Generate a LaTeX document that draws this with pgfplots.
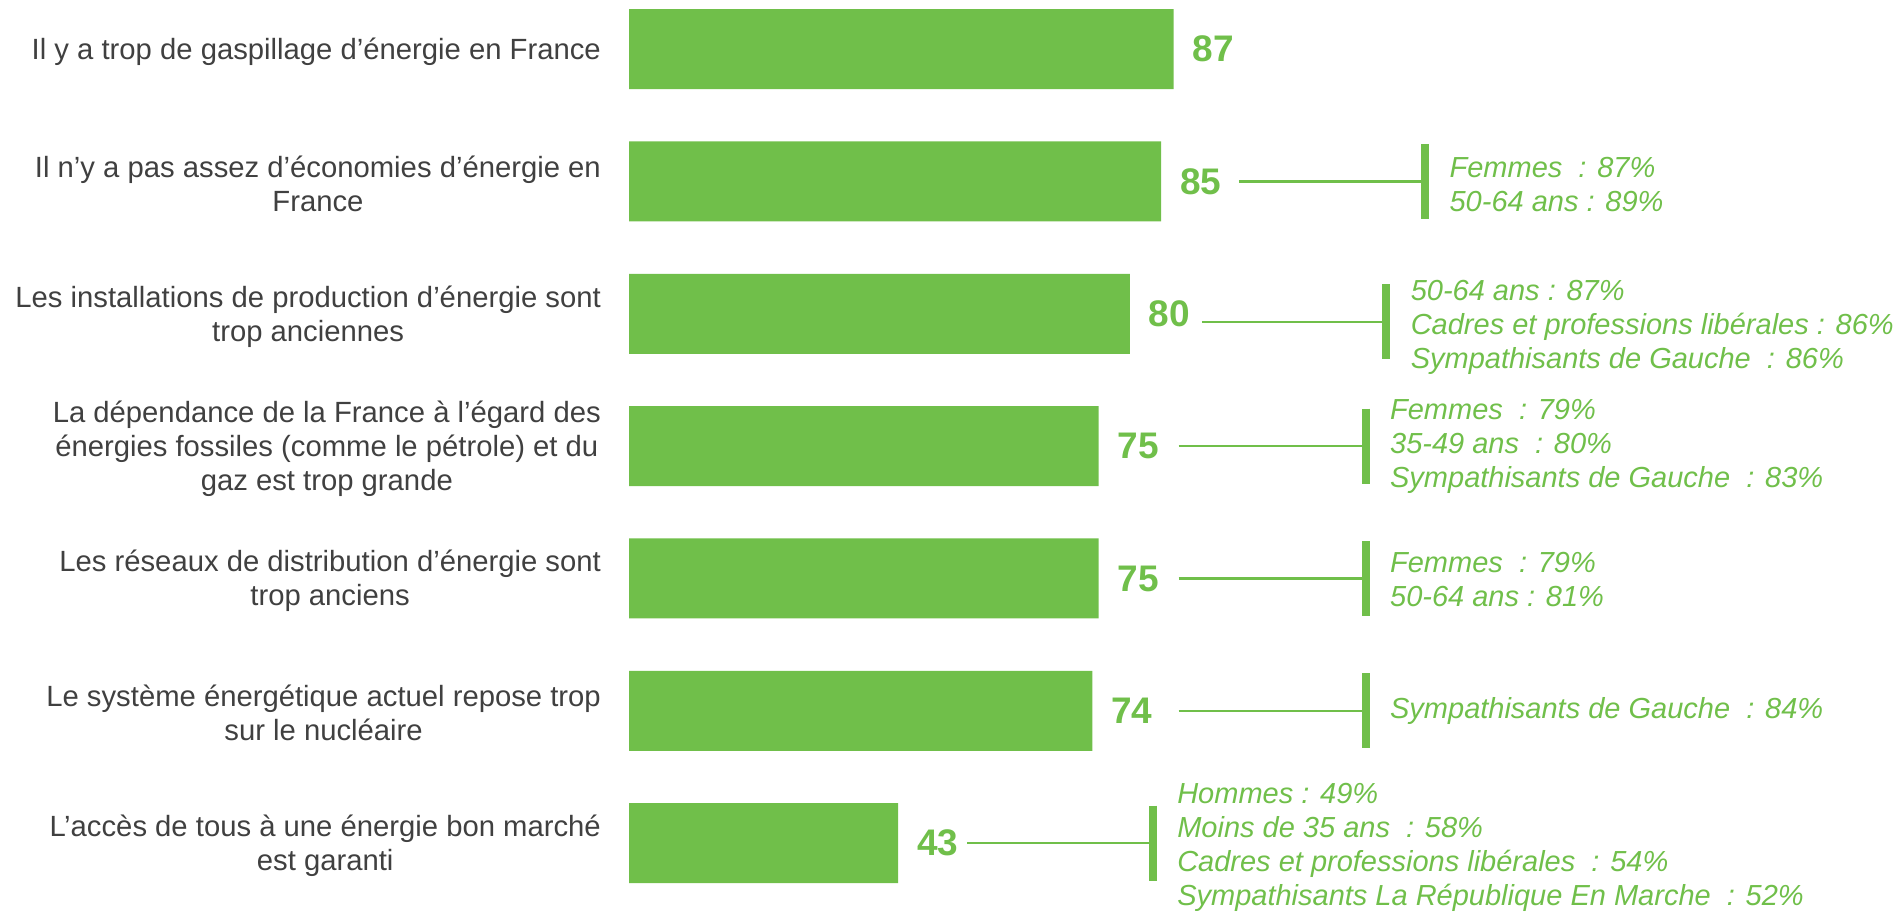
\documentclass[border=0pt]{standalone}
\usepackage{pgfplots}
\pgfplotsset{compat=1.18}
\usepackage{fontspec}
\setmainfont{Liberation Sans}
\definecolor{barg}{RGB}{112,191,74}
\definecolor{labg}{RGB}{64,64,64}
\begin{document}
\begin{tikzpicture}
\begin{axis}[
  name=ax,
  scale only axis,
  width=760.4pt, height=364.8pt,
  xmin=-100.48, xmax=203.19,
  ymin=-0.371, ymax=6.520,
  y dir=reverse,
  xbar, bar width=32pt, bar shift=0pt,
  axis line style={draw=none},
  tick style={draw=none},
  xtick=\empty,
  ytick={0,1,2,3,4,5,6},
  yticklabels={
    {Il y a trop de gaspillage d’énergie en France},
    {Il n’y a pas assez d’économies d’énergie en\\France},
    {Les installations de production d’énergie sont\\trop anciennes},
    {La dépendance de la France à l’égard des\\énergies fossiles (comme le pétrole) et du\\gaz est trop grande},
    {Les réseaux de distribution d’énergie sont\\trop anciens},
    {Le système énergétique actuel repose trop\\sur le nucléaire},
    {L’accès de tous à une énergie bon marché\\est garanti}},
  yticklabel style={anchor=east, inner sep=0pt, xshift=244.8pt, yshift=-1pt, align=center,
    font=\fontsize{11.7pt}{13.6pt}\selectfont, text=labg},
  clip=false,
  point meta=x,
  /pgf/number format/assume math mode=true,
  nodes near coords,
  nodes near coords style={anchor=west, inner sep=0pt, xshift=7.4pt,
    font=\bfseries\fontsize{14.8pt}{17pt}\selectfont, text=barg},
]
\addplot[fill=barg, draw=none] coordinates {(87,0) (85,1) (80,2) (75,3) (75,4) (74,5) (43,6)};

% bar 2
\draw[barg, line width=0.9pt] (axis cs:97.4,1) -- (axis cs:127.1,1);
\draw[barg, line width=3.2pt] (axis cs:127.1,0.717) -- (axis cs:127.1,1.283);
\node[anchor=west, align=left, inner sep=0pt, text=barg, font=\itshape\fontsize{11.6pt}{13.6pt}\selectfont]
  at (axis cs:131.0,1.02) {Femmes~ : 87\%\\50-64 ans : 89\%};
% bar 3
\draw[barg, line width=0.9pt] (axis cs:91.5,2.06) -- (axis cs:121.0,2.06);
\draw[barg, line width=3.2pt] (axis cs:121.0,1.777) -- (axis cs:121.0,2.343);
\node[anchor=west, align=left, inner sep=0pt, text=barg, font=\itshape\fontsize{11.6pt}{13.6pt}\selectfont]
  at (axis cs:124.8,2.10) {50-64 ans : 87\%\\Cadres et professions libérales : 86\%\\Sympathisants de Gauche~ : 86\%};
% bar 4
\draw[barg, line width=0.9pt] (axis cs:87.8,3) -- (axis cs:117.7,3);
\draw[barg, line width=3.2pt] (axis cs:117.7,2.717) -- (axis cs:117.7,3.283);
\node[anchor=west, align=left, inner sep=0pt, text=barg, font=\itshape\fontsize{11.6pt}{13.6pt}\selectfont]
  at (axis cs:121.5,3.0) {Femmes~ : 79\%\\35-49 ans~ : 80\%\\Sympathisants de Gauche~ : 83\%};
% bar 5
\draw[barg, line width=0.9pt] (axis cs:87.8,4) -- (axis cs:117.7,4);
\draw[barg, line width=3.2pt] (axis cs:117.7,3.717) -- (axis cs:117.7,4.283);
\node[anchor=west, align=left, inner sep=0pt, text=barg, font=\itshape\fontsize{11.6pt}{13.6pt}\selectfont]
  at (axis cs:121.5,4.01) {Femmes~ : 79\%\\50-64 ans : 81\%};
% bar 6
\draw[barg, line width=0.9pt] (axis cs:87.8,5) -- (axis cs:117.7,5);
\draw[barg, line width=3.2pt] (axis cs:117.7,4.717) -- (axis cs:117.7,5.283);
\node[anchor=west, align=left, inner sep=0pt, text=barg, font=\itshape\fontsize{11.6pt}{13.6pt}\selectfont]
  at (axis cs:121.5,5.0) {Sympathisants de Gauche~ : 84\%};
% bar 7
\draw[barg, line width=0.9pt] (axis cs:54.0,6) -- (axis cs:83.7,6);
\draw[barg, line width=3.2pt] (axis cs:83.7,5.717) -- (axis cs:83.7,6.283);
\node[anchor=west, align=left, inner sep=0pt, text=barg, font=\itshape\fontsize{11.6pt}{13.6pt}\selectfont]
  at (axis cs:87.5,6.03) {Hommes : 49\%\\Moins de 35 ans~ : 58\%\\Cadres et professions libérales~ : 54\%\\Sympathisants La République En Marche~ : 52\%};
\end{axis}
\pgfresetboundingbox
\path[use as bounding box] (ax.south west) rectangle (ax.north east);
\end{tikzpicture}
\end{document}
